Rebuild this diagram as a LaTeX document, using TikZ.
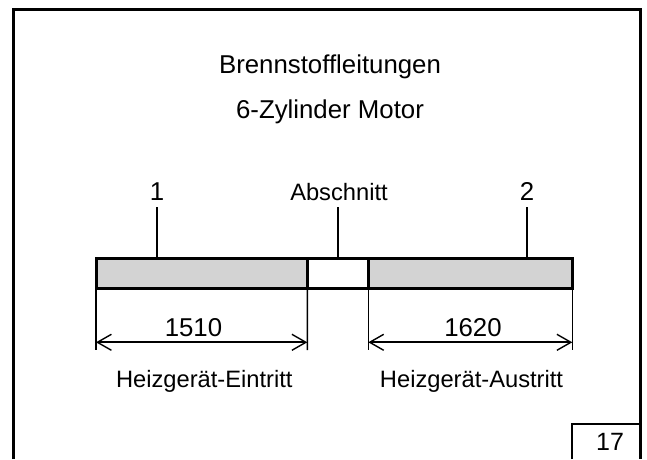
\documentclass[tikz,border=0pt]{standalone}
\usepackage{fontspec}
\setmainfont{Liberation Sans}
\usetikzlibrary{arrows.meta}
\definecolor{barfill}{RGB}{211,211,211}
\tikzset{
  frameline/.style={line width=3pt, line join=miter},
  barseg/.style={draw, line width=3pt, inner sep=0pt, outer sep=0pt, minimum height=30pt, anchor=south west},
  leader/.style={line width=2pt},
  extline/.style={line width=1.6pt},
  dimline/.style={line width=2pt, {Straight Barb[length=14pt,width=16pt,line width=1.4pt]}-{Straight Barb[length=14pt,width=16pt,line width=1.4pt]}},
  bigtext/.style={font=\fontsize{25.8}{30}\selectfont, anchor=base, inner sep=0pt},
  midtext/.style={font=\fontsize{23.7}{28}\selectfont, anchor=base, inner sep=0pt},
}
\begin{document}
\begin{tikzpicture}[x=1pt,y=1pt]
\useasboundingbox (0,0) rectangle (647,459);
% frame
\coordinate (fbl) at (13.5,0);
\coordinate (ftl) at (13.5,449.3);
\coordinate (ftr) at (640.5,449.3);
\coordinate (fbr) at (640.5,0);
\draw[frameline] (fbl) -- (ftl) -- (ftr) -- (fbr);
% page number box
\coordinate (pbl) at (572,0);
\coordinate (ptl) at (572,35.5);
\coordinate (ptr) at (640.5,35.5);
\draw[line width=2pt] (pbl) -- (ptl) -- (ptr);
\node[bigtext, font=\fontsize{25}{30}\selectfont] (page) at (610,9) {17};
% titles
\node[bigtext] (t1) at (330,386) {Brennstoffleitungen};
\node[bigtext] (t2) at (330,341) {6-Zylinder Motor};
% bar segments
\node[barseg, fill=barfill, minimum width=211.3pt] (s1) at (96,170.7) {};
\node[barseg, fill=white, minimum width=61pt] (s2) at (307.3,170.7) {};
\node[barseg, fill=barfill, minimum width=204pt] (s3) at (368.3,170.7) {};
% labels above
\node[bigtext] (l1) at (157,259) {1};
\node[midtext] (la) at (339,259) {Abschnitt};
\node[bigtext] (l2) at (527,259) {2};
\coordinate (c1) at (157,200.7);
\coordinate (ca) at (338,200.7);
\coordinate (c2) at (527,200.7);
\draw[leader] (157,252) -- (c1);
\draw[leader] (338,252) -- (ca);
\draw[leader] (527,252) -- (c2);
% extension lines
\coordinate (e1a) at (96,109);
\coordinate (e1b) at (307.3,109);
\coordinate (e2a) at (368.3,109);
\coordinate (e2b) at (572.3,109);
\draw[extline] (s1.south west) -- (e1a);
\draw[extline] (s1.south east) -- (e1b);
\draw[extline] (s3.south west) -- (e2a);
\draw[extline] (s3.south east) -- (e2b);
% dimension lines
\coordinate (d1a) at (96,116.7);
\coordinate (d1b) at (307.3,116.7);
\coordinate (d2a) at (368.3,116.7);
\coordinate (d2b) at (572.3,116.7);
\draw[dimline] (d1a) -- (d1b);
\draw[dimline] (d2a) -- (d2b);
\node[bigtext] (n1) at (193.5,123) {1510};
\node[bigtext] (n2) at (473,123) {1620};
% bottom labels
\node[midtext] (b1) at (204.3,72) {Heizgerät-Eintritt};
\node[midtext] (b2) at (471.5,72) {Heizgerät-Austritt};
\end{tikzpicture}
\end{document}
